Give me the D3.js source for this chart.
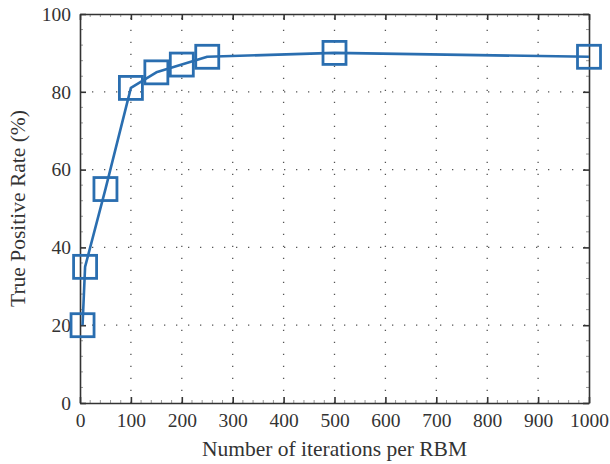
<!DOCTYPE html>
<html>
<head>
<meta charset="utf-8">
<script src="https://cdn.jsdelivr.net/npm/d3@7"></script>
<style>
  body { margin: 0; background: #fff; }
  text { font-family: "Liberation Serif", "DejaVu Serif", serif; fill: #333; }
</style>
</head>
<body>
<div id="chart"></div>
<script>
// iterations per RBM vs true positive rate
var iterations = [5, 10, 50, 100, 150, 200, 250, 500, 1000];
var tpr = [20, 35, 55, 81, 85, 87, 89, 90, 89];
var xTicks = [0, 100, 200, 300, 400, 500, 600, 700, 800, 900, 1000];
var yTicks = [0, 20, 40, 60, 80, 100];

var width = 610, height = 464;
var margin = {top: 14, right: 21, bottom: 61, left: 80};
var blue = "#2a6eb0";

var svg = d3.select("#chart").append("svg")
    .attr("width", width)
    .attr("height", height);

var x = d3.scaleLinear().domain([0, 1000]).range([margin.left, width - margin.right]);
var y = d3.scaleLinear().domain([0, 100]).range([height - margin.bottom, margin.top]);

// dotted grid at major ticks
var grid = svg.append("g").attr("stroke", "#555").attr("stroke-width", 1.3)
    .attr("stroke-dasharray", "1.3,10.7");
grid.selectAll("line.vx")
    .data(xTicks.slice(1, -1))
    .enter().append("line")
    .attr("x1", function (d) { return x(d); })
    .attr("x2", function (d) { return x(d); })
    .attr("y1", y(0)).attr("y2", y(100));
grid.selectAll("line.hy")
    .data(yTicks.slice(1, -1))
    .enter().append("line")
    .attr("y1", function (d) { return y(d); })
    .attr("y2", function (d) { return y(d); })
    .attr("x1", x(0)).attr("x2", x(1000));

// minor ticks
var minor = svg.append("g").attr("stroke", "#999").attr("stroke-width", 1);
var xMinor = d3.range(0, 1001, 20).filter(function (d) { return d % 100; });
var yMinor = d3.range(0, 101, 4).filter(function (d) { return d % 20; });
xMinor.forEach(function (d) {
    minor.append("line").attr("x1", x(d)).attr("x2", x(d)).attr("y1", y(0)).attr("y2", y(0) - 3);
    minor.append("line").attr("x1", x(d)).attr("x2", x(d)).attr("y1", y(100)).attr("y2", y(100) + 3);
});
yMinor.forEach(function (d) {
    minor.append("line").attr("y1", y(d)).attr("y2", y(d)).attr("x1", x(0)).attr("x2", x(0) + 3);
    minor.append("line").attr("y1", y(d)).attr("y2", y(d)).attr("x1", x(1000)).attr("x2", x(1000) - 3);
});

// axes
var fmt = d3.format("d");
var xAxis = svg.append("g")
    .attr("transform", "translate(0," + y(0) + ")")
    .call(d3.axisBottom(x).tickValues(xTicks).tickFormat(fmt).tickSizeInner(-6).tickSizeOuter(0).tickPadding(10));
var yAxis = svg.append("g")
    .attr("transform", "translate(" + x(0) + ",0)")
    .call(d3.axisLeft(y).tickValues(yTicks).tickFormat(fmt).tickSizeInner(-6).tickSizeOuter(0).tickPadding(9));
var xTop = svg.append("g")
    .attr("transform", "translate(0," + y(100) + ")")
    .call(d3.axisTop(x).tickValues(xTicks).tickSizeInner(-6).tickSizeOuter(0).tickFormat(""));
var yRight = svg.append("g")
    .attr("transform", "translate(" + x(1000) + ",0)")
    .call(d3.axisRight(y).tickValues(yTicks).tickSizeInner(-6).tickSizeOuter(0).tickFormat(""));

[xAxis, yAxis, xTop, yRight].forEach(function (a) {
    a.selectAll("path").attr("stroke", "#333").attr("stroke-width", 1.6);
    a.selectAll("line").attr("stroke", "#333").attr("stroke-width", 1.6);
    a.selectAll("text").style("font-size", "19.5px")
        .style("font-family", "'Liberation Serif', serif").attr("fill", "#333");
});

// line
var line = d3.line()
    .x(function (d, i) { return x(iterations[i]); })
    .y(function (d) { return y(d); });

svg.append("path")
    .datum(tpr)
    .attr("d", line)
    .attr("fill", "none")
    .attr("stroke", blue)
    .attr("stroke-width", 2.6)
    .attr("stroke-linejoin", "round");

// square markers
var size = 23;
svg.selectAll("rect.marker")
    .data(tpr)
    .enter().append("rect")
    .attr("class", "marker")
    .attr("x", function (d, i) { return x(iterations[i]) - size / 2; })
    .attr("y", function (d) { return y(d) - size / 2; })
    .attr("width", size)
    .attr("height", size)
    .attr("fill", "none")
    .attr("stroke", blue)
    .attr("stroke-width", 2.8);

// axis labels
svg.append("text")
    .attr("x", (x(0) + x(1000)) / 2)
    .attr("y", 456)
    .attr("text-anchor", "middle")
    .style("font-size", "21.5px")
    .text("Number of iterations per RBM");

svg.append("text")
    .attr("transform", "translate(25," + ((y(0) + y(100)) / 2) + ") rotate(-90)")
    .attr("text-anchor", "middle")
    .style("font-size", "21.5px")
    .text("True Positive Rate (%)");
</script>
</body>
</html>
